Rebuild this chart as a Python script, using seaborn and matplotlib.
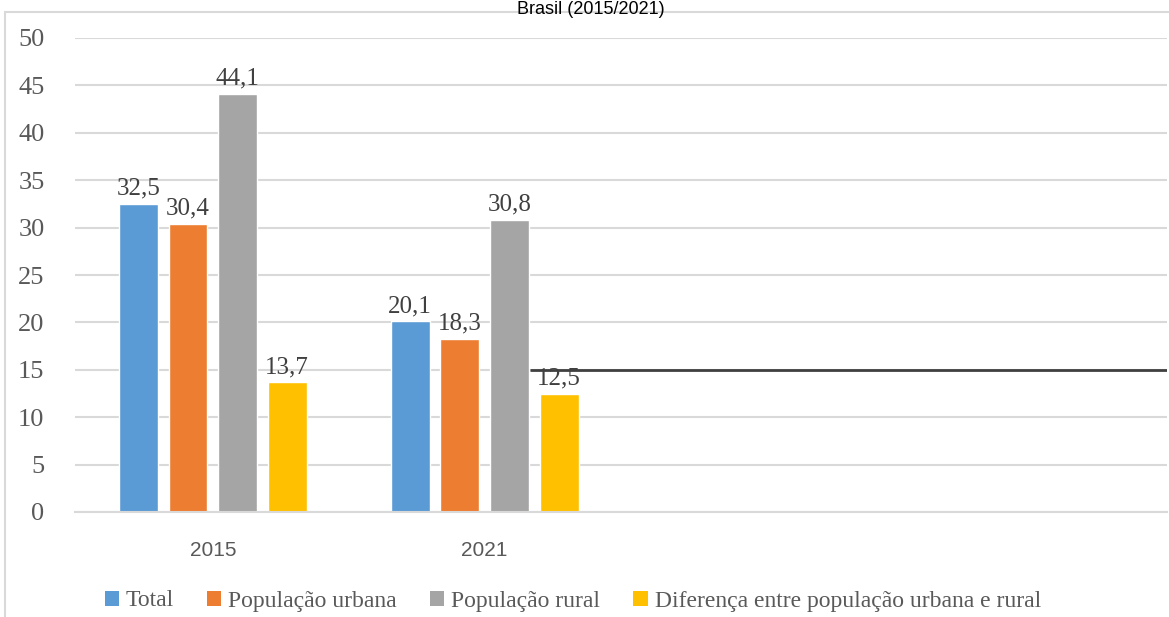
import matplotlib
matplotlib.use("Agg")
import matplotlib.pyplot as plt
from matplotlib.patches import Rectangle, Patch
import seaborn as sns
import pandas as pd

years = ["2015", "2021"]
series = ["Total", "População urbana", "População rural",
          "Diferença entre população urbana e rural"]
values_2015 = [32.5, 30.4, 44.1, 13.7]
values_2021 = [20.1, 18.3, 30.8, 12.5]
reference_line = 15
y_ticks = [0, 5, 10, 15, 20, 25, 30, 35, 40, 45, 50]
title = "Brasil (2015/2021)"
colors = ["#5B9BD5", "#ED7D31", "#A5A5A5", "#FFC000"]

rows = []
for s, v in zip(series, values_2015):
    rows.append({"ano": "2015", "serie": s, "valor": v})
for s, v in zip(series, values_2021):
    rows.append({"ano": "2021", "serie": s, "valor": v})
df = pd.DataFrame(rows)

sns.set_style("white")
fig = plt.figure(figsize=(11.69, 6.17), dpi=100)
ax = fig.add_axes([75/1169, 1-512/617, (1167-75)/1169, (512-38)/617])

sns.barplot(data=df, x="ano", y="valor", hue="serie", order=years,
            hue_order=series, palette=colors, width=0.73, gap=0.215,
            ax=ax, legend=False, saturation=1)

ax.set_xlim(-0.507, 3.51)
ax.set_ylim(0, 50)
ax.set_yticks(y_ticks)
ax.grid(axis="y", color="#d9d9d9", lw=1.5)
ax.set_axisbelow(True)
for sp in ["top", "right", "left"]:
    ax.spines[sp].set_visible(False)
ax.spines["bottom"].set_color("#d9d9d9")
ax.spines["bottom"].set_linewidth(1.5)
ax.set_xlabel("")
ax.set_ylabel("")
ax.tick_params(axis="both", length=0)
ax.tick_params(axis="y", pad=22)
ax.tick_params(axis="x", pad=21)
for lab in ax.get_yticklabels():
    lab.set_fontfamily("Liberation Serif")
    lab.set_fontsize(19)
    lab.set_color("#595959")
for lab in ax.get_xticklabels():
    lab.set_fontfamily("Liberation Sans")
    lab.set_fontsize(15)
    lab.set_color("#595959")

for cont in ax.containers:
    labels = [f"{b.get_height():.1f}".replace(".", ",") for b in cont]
    ax.bar_label(cont, labels=labels, padding=3, fontsize=18,
                 family="Liberation Serif", color="#404040")

ax.hlines(reference_line, 1.165, 3.51, color="#404040", lw=2, zorder=5)

# chart frame (partially cropped)
fig.patches.append(Rectangle((5/1169, -0.2), 1.2, 1.2 - 12/617,
                             transform=fig.transFigure, fill=False,
                             edgecolor="#d9d9d9", lw=1.5))

fig.text(0.505, 0.999, title, ha="center", va="top", fontsize=13,
         family="Liberation Sans", color="#000000")

handles = [Patch(facecolor=c, edgecolor="none") for c in colors]
leg = fig.legend(handles, series, loc="center", bbox_to_anchor=(0.49, 1 - 601/617),
                 ncol=4, frameon=False, handlelength=0.6, handleheight=0.6,
                 handletextpad=0.3, columnspacing=1.4,
                 prop={"family": "Liberation Serif", "size": 17})
for t in leg.get_texts():
    t.set_color("#595959")

fig.savefig("out.png", dpi=100)
